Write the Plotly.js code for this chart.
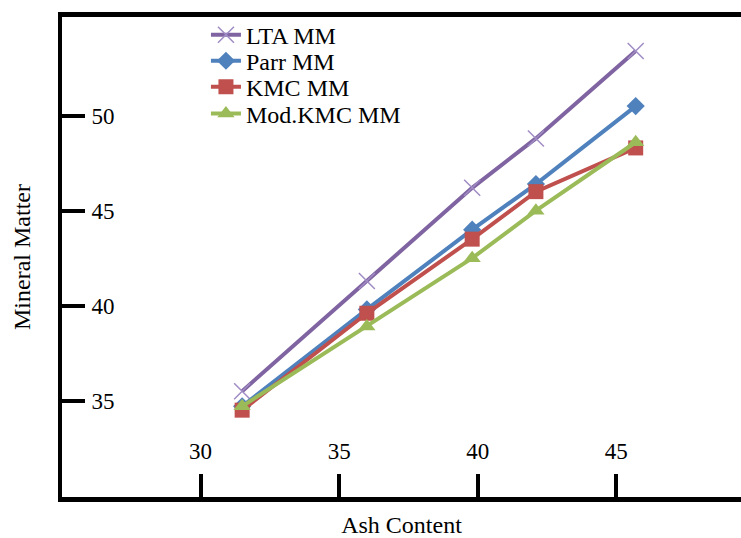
<!DOCTYPE html>
<html>
<head>
<meta charset="utf-8">
<script src="https://cdn.plot.ly/plotly-3.0.1.min.js"></script>
<style>
  html, body { margin: 0; padding: 0; background: #fff; }
  #chart { width: 741px; height: 538px; }
</style>
</head>
<body>
<div id="chart"></div>
<script>
// Data
const ashContent = [31.5, 36.0, 39.8, 42.1, 45.7];
const ltaMM      = [35.5, 41.3, 46.2, 48.8, 53.4];
const parrMM     = [34.7, 39.8, 44.0, 46.4, 50.5];
const kmcMM      = [34.5, 39.6, 43.5, 46.0, 48.3];
const modKmcMM   = [34.7, 38.9, 42.5, 45.0, 48.6];

const seriesNames = ["LTA MM", "Parr MM", "KMC MM", "Mod.KMC MM"];
const xTicks = [30, 35, 40, 45];
const yTicks = [35, 40, 45, 50];

const serif = "Liberation Serif, Times New Roman, serif";
const legendRowsY = [0.962, 0.908, 0.854, 0.798];

function legendBox(y) {
  return {
    x: 0.212, y: y, xanchor: "left", yanchor: "middle",
    bgcolor: "rgba(0,0,0,0)", borderwidth: 0,
    font: { family: serif, size: 24, color: "#000" }
  };
}

const traces = [
  {
    x: ashContent, y: ltaMM, name: seriesNames[0], type: "scatter", mode: "lines+markers",
    legend: "legend",
    line: { color: "#8064A2", width: 4 },
    marker: { symbol: "x-thin-open", size: 16, color: "#a08cc4", line: { color: "#a08cc4", width: 1.5 } }
  },
  {
    x: ashContent, y: parrMM, name: seriesNames[1], type: "scatter", mode: "lines+markers",
    legend: "legend2",
    line: { color: "#4F81BD", width: 4 },
    marker: { symbol: "diamond", size: 14, color: "#4F81BD" }
  },
  {
    x: ashContent, y: kmcMM, name: seriesNames[2], type: "scatter", mode: "lines+markers",
    legend: "legend3",
    line: { color: "#C0504D", width: 4 },
    marker: { symbol: "square", size: 15, color: "#C0504D" }
  },
  {
    x: ashContent, y: modKmcMM, name: seriesNames[3], type: "scatter", mode: "lines+markers",
    legend: "legend4",
    line: { color: "#9BBB59", width: 4 },
    marker: { symbol: "triangle-up", size: 15, color: "#9BBB59" }
  }
];

const layout = {
  width: 741, height: 538,
  margin: { l: 62, r: 0, t: 17, b: 41, pad: 0 },
  paper_bgcolor: "#ffffff",
  plot_bgcolor: "#ffffff",
  font: { family: serif, size: 23, color: "#000" },
  showlegend: true,
  legend: legendBox(legendRowsY[0]),
  legend2: legendBox(legendRowsY[1]),
  legend3: legendBox(legendRowsY[2]),
  legend4: legendBox(legendRowsY[3]),
  xaxis: {
    range: [25, 49.5],
    tickvals: xTicks,
    ticktext: xTicks.map(String),
    ticks: "inside", ticklen: 23, tickwidth: 4, tickcolor: "#000",
    ticklabelposition: "inside",
    ticklabelstandoff: 12,
    showline: true, linewidth: 5, linecolor: "#000", mirror: true,
    showgrid: false, zeroline: false,
    tickfont: { family: serif, size: 23, color: "#000" },
    title: { text: "Ash Content", font: { family: serif, size: 24, color: "#000" }, standoff: 57 },
    automargin: false
  },
  yaxis: {
    range: [29.93, 55.19],
    tickvals: yTicks,
    ticktext: yTicks.map(String),
    ticks: "inside", ticklen: 23, tickwidth: 4, tickcolor: "#000",
    ticklabelposition: "inside",
    ticklabelstandoff: 8,
    showline: true, linewidth: 4, linecolor: "#000", mirror: false,
    showgrid: false, zeroline: false,
    tickfont: { family: serif, size: 23, color: "#000" },
    title: { text: "Mineral Matter", font: { family: serif, size: 24, color: "#000" }, standoff: 55 },
    automargin: false
  }
};

Plotly.newPlot("chart", traces, layout, { displayModeBar: false, staticPlot: true });
</script>
</body>
</html>
